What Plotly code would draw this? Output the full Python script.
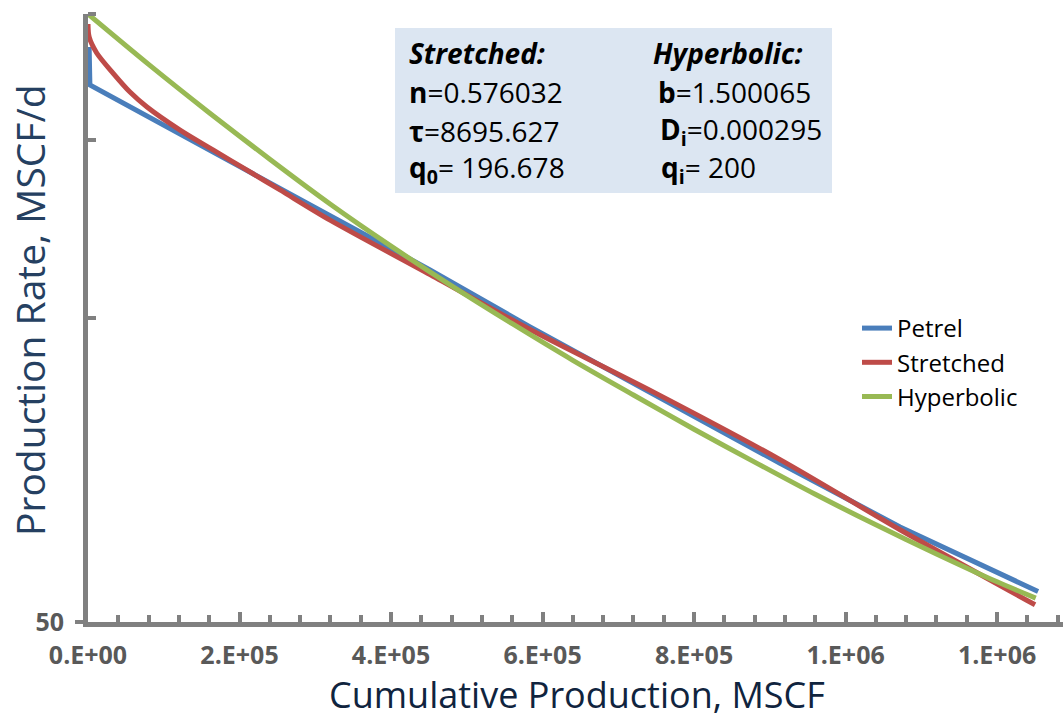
import plotly.graph_objects as go

# ---- data ----
petrel_cum = [1500, 2500, 319500, 451500, 583500, 913500, 1071900, 1254100]
petrel_rate = [185.5, 170.1, 126.3, 111.6, 98.0, 71.8, 62.1, 53.6]

stretched_cum = [0, 1500, 11500, 33000, 55400, 77900, 121500, 165000, 209900, 253500,
                 319500, 451500, 583500, 748500, 913500, 1071900, 1250100]
stretched_rate = [195.5, 189.8, 183.0, 174.8, 167.4, 161.8, 153.5, 146.7, 140.1, 133.9,
                  125.0, 110.4, 97.4, 84.3, 72.4, 61.7, 52.0]

hyper_cum = [0, 80000, 160000, 240000, 320000, 400000, 480000, 560000, 640000, 720000,
             800000, 880000, 960000, 1040000, 1120000, 1200000, 1251000]
hyper_rate = [200.0, 178.3, 159.7, 143.6, 129.6, 117.8, 107.6, 98.7, 90.8, 83.9,
              77.6, 72.0, 66.9, 62.4, 58.4, 54.8, 52.8]

x_tickvals = [0, 200000, 400000, 600000, 800000, 1000000, 1200000]
x_ticktext = ["0.E+00", "2.E+05", "4.E+05", "6.E+05", "8.E+05", "1.E+06", "1.E+06"]
y_tickvals = [50]
y_ticktext = ["50"]
y_minor_vals = [100, 150, 200]

stretched_params = ["<b><i>Stretched:</i></b>", "<b>n</b>=0.576032",
                    "<b>τ</b>=8695.627", "<b>q<sub>0</sub></b>= 196.678"]
hyper_params = ["<b><i>Hyperbolic:</i></b>", "<b>b</b>=1.500065",
                "<b>D<sub>i</sub></b>=0.000295", "<b>q<sub>i</sub></b>= 200"]

# ---- figure ----
FONT = "Open Sans"
W, H = 1063, 721
L, R, T, B = 88, 0, 14, 99
pw, ph = W - L - R, H - T - B

def px_x(px):
    return (px - L) / pw

def px_y(py):
    return (H - B - py) / ph

fig = go.Figure()
fig.add_trace(go.Scatter(x=petrel_cum, y=petrel_rate, mode="lines", name="Petrel",
                         line=dict(color="#4A7EBB", width=5)))
fig.add_trace(go.Scatter(x=stretched_cum, y=stretched_rate, mode="lines", name="Stretched",
                         line=dict(color="#BE4B48", width=5, shape="spline", smoothing=0.8)))
fig.add_trace(go.Scatter(x=hyper_cum, y=hyper_rate, mode="lines", name="Hyperbolic",
                         line=dict(color="#98B954", width=5, shape="spline", smoothing=0.8)))

fig.update_layout(
    width=W, height=H,
    margin=dict(l=L, r=R, t=T, b=B),
    paper_bgcolor="white", plot_bgcolor="white",
    font=dict(family=FONT, color="black"),
    showlegend=True,
    legend=dict(x=px_x(857), y=px_y(306), xanchor="left", yanchor="top",
                font=dict(family=FONT, size=24, color="black"),
                bgcolor="rgba(0,0,0,0)", borderwidth=0),
    xaxis=dict(range=[0, 1287000], showgrid=False, zeroline=False,
               showline=True, linecolor="#808080", linewidth=5,
               tickmode="array", tickvals=x_tickvals, ticktext=x_ticktext,
               ticks="inside", ticklen=10, tickwidth=4, tickcolor="#808080",
               ticklabelstandoff=7,
               tickfont=dict(family=FONT, size=25, color="#595959", weight="bold"),
               minor=dict(tickmode="linear", tick0=0, dtick=40000, ticks="inside",
                          ticklen=7, tickwidth=4, tickcolor="#808080")),
    yaxis=dict(type="log", range=[1.69897, 2.30103], showgrid=False, zeroline=False,
               showline=True, linecolor="#808080", linewidth=5,
               tickmode="array", tickvals=y_tickvals, ticktext=y_ticktext,
               ticks="outside", ticklen=8, tickwidth=4, tickcolor="#808080",
               ticklabelstandoff=6,
               tickfont=dict(family=FONT, size=25, color="#595959", weight="bold"),
               minor=dict(tickmode="array", tickvals=y_minor_vals, ticks="inside",
                          ticklen=8, tickwidth=4, tickcolor="#808080")),
)

# axis titles
fig.add_annotation(text="Cumulative Production, MSCF", xref="paper", yref="paper",
                   x=px_x(577), y=px_y(721), xanchor="center", yanchor="bottom",
                   showarrow=False, font=dict(family=FONT, size=36, color="#10243E"))
fig.add_annotation(text="Production Rate, MSCF/d", xref="paper", yref="paper",
                   x=px_x(29), y=px_y(310), xanchor="center", yanchor="middle",
                   textangle=-90, showarrow=False,
                   font=dict(family=FONT, size=39, color="#254061"))

# parameter box
fig.add_shape(type="rect", xref="paper", yref="paper",
              x0=px_x(395), x1=px_x(832), y0=px_y(193), y1=px_y(28),
              fillcolor="#DCE6F2", line=dict(width=0), layer="below")
row_y = [53, 92, 131, 169]
left_x = [407, 407, 407, 407]
right_x = [651, 656, 658, 659]
for i in range(4):
    fig.add_annotation(text=stretched_params[i], xref="paper", yref="paper",
                       x=px_x(left_x[i]), y=px_y(row_y[i]), xanchor="left", yanchor="middle",
                       showarrow=False, font=dict(family=FONT, size=28, color="black"))
    fig.add_annotation(text=hyper_params[i], xref="paper", yref="paper",
                       x=px_x(right_x[i]), y=px_y(row_y[i]), xanchor="left", yanchor="middle",
                       showarrow=False, font=dict(family=FONT, size=28, color="black"))

fig.write_html("out.html")
